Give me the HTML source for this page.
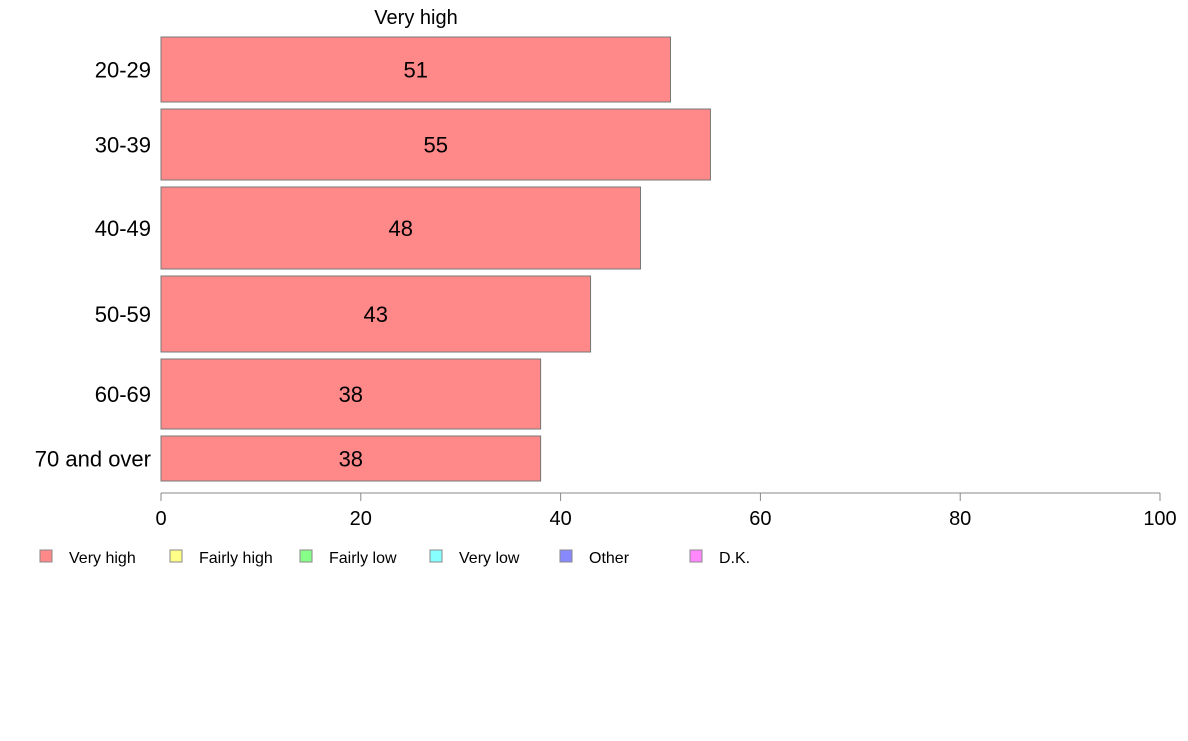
<!DOCTYPE html>
<html><head><meta charset="utf-8"><style>
body{margin:0;background:#fff;font-family:"Liberation Sans",sans-serif;}
svg text{font-family:"Liberation Sans",sans-serif;}
</style></head><body>
<svg width="1188" height="736" id="chart"></svg>
<script>
const categories=["20-29","30-39","40-49","50-59","60-69","70 and over"];
const values=[51,55,48,43,38,38];
const valueLabels=["51","55","48","43","38","38"];
const weights=[65,71,82,76,70,45];
const ticks=[0,20,40,60,80,100];
const legendNames=["Very high","Fairly high","Fairly low","Very low","Other","D.K."];
const legendColors=["#ff8888","#ffff88","#88ff88","#88ffff","#8888ff","#ff88ff"];
const NS="http://www.w3.org/2000/svg";
const svg=document.getElementById("chart");
function mk(t,a,p){const e=document.createElementNS(NS,t);for(const k in a)e.setAttribute(k,a[k]);(p||svg).appendChild(e);return e;}
const x0=161,x1=1160,topY=37,gap=7;
const xs=v=>x0+(v/100)*(x1-x0);
const t=mk("text",{x:416,y:24,"font-size":20,"text-anchor":"middle"});t.textContent="Very high";


let y=topY;
categories.forEach((c,i)=>{
  const h=weights[i];
  const r=mk("rect",{x:xs(0),y:y,width:xs(values[i])-xs(0),height:h,fill:"#ff8888",stroke:"#777","stroke-width":1});
  
  
  const vl=mk("text",{x:xs(values[i]/2),y:y+h/2+8,"font-size":22,"text-anchor":"middle"});vl.textContent=valueLabels[i];
  
  
  const cl=mk("text",{x:151,y:y+h/2+8,"font-size":22,"text-anchor":"end"});cl.textContent=c;
  
  
  y+=h+gap;
});
const ax=mk("line",{x1:xs(0),x2:xs(100),y1:493,y2:493,stroke:"#888"});


ticks.forEach(v=>{
  const l=mk("line",{x1:xs(v),x2:xs(v),y1:493,y2:501,stroke:"#888"});
  
  
  const tl=mk("text",{x:xs(v),y:525,"font-size":20,"text-anchor":"middle"});tl.textContent=v;
  
  
});
legendNames.forEach((n,i)=>{
  const bx=40+i*130;
  const b=mk("rect",{x:bx,y:550,width:12,height:12,fill:legendColors[i],stroke:"#888"});
  
  
  const lt=mk("text",{x:bx+29,y:563,"font-size":16});lt.textContent=n;
  
  
});
</script>
</body></html>
